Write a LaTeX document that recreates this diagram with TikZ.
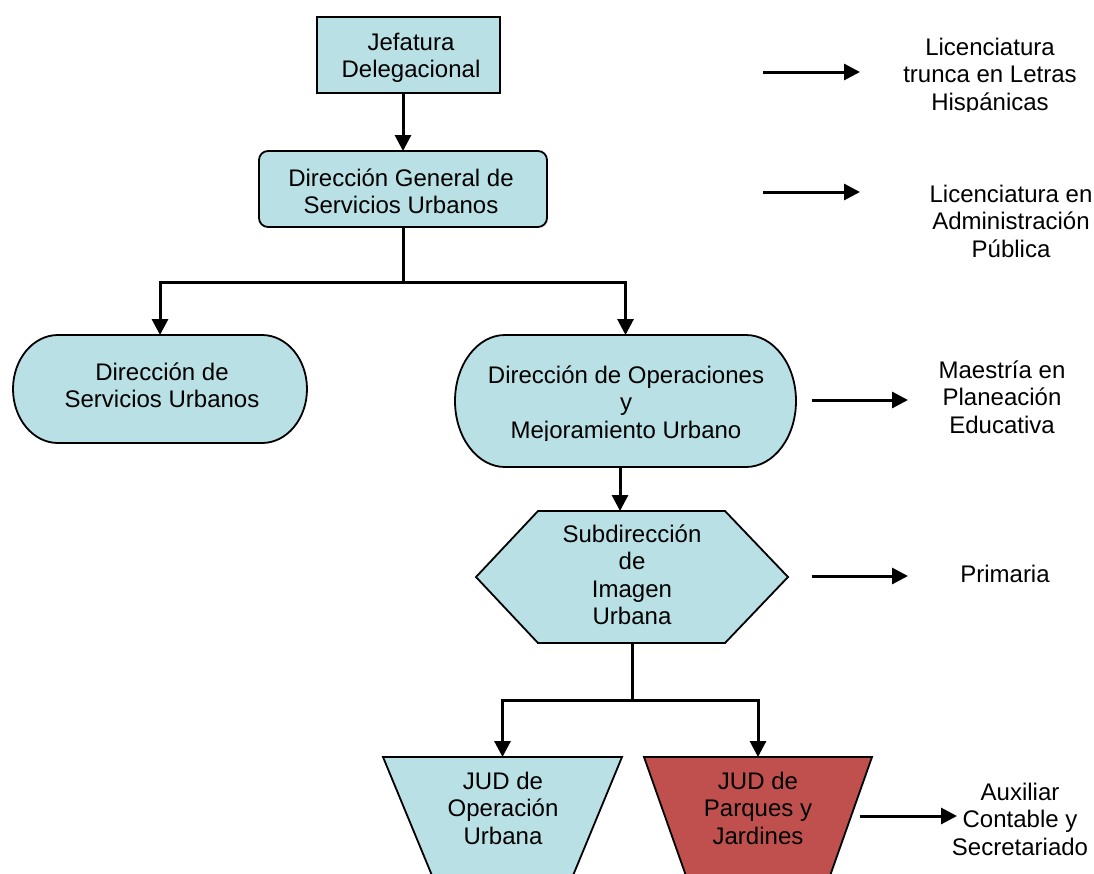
\documentclass[tikz,border=0pt]{standalone}
\usepackage{fontspec}
\setmainfont{Liberation Sans}
\usetikzlibrary{arrows.meta,calc}
\definecolor{paleblue}{RGB}{185,224,228}
\definecolor{brick}{RGB}{192,80,77}

\begin{document}
\begin{tikzpicture}[x=1pt,y=-1pt,
  frame/.style={inner sep=0pt, outer sep=0pt, draw=none},
  shapeline/.style={draw=black, line width=1.8pt},
  % labels are placed by the baseline of their last line
  lbl/.style={font=\fontsize{24}{27.5}\selectfont, align=center, inner sep=0pt, anchor=base},
  link/.style={line width=3pt},
  flow/.style={link, -{Triangle[width=16pt,length=16pt]}},
]
\useasboundingbox (0,0) rectangle (1094,873);

% ---- boxes of the chart ----
\node[frame, shapeline, fill=paleblue, minimum width=183pt, minimum height=76pt] (jef) at (408.5,55) {};
\node[frame, shapeline, fill=paleblue, rounded corners=9pt, minimum width=288pt, minimum height=76pt] (dg) at (403,189) {};

% stadium-like boxes with elliptical ends
\node[frame, minimum width=294pt, minimum height=108pt] (ds) at (160,389) {};
\draw[shapeline, fill=paleblue]
  ([xshift=45pt]ds.north west) -- ([xshift=-45pt]ds.north east)
  arc[start angle=90, end angle=-90, x radius=45pt, y radius=54pt]
  -- ([xshift=45pt]ds.south west)
  arc[start angle=270, end angle=90, x radius=45pt, y radius=54pt] -- cycle;

\node[frame, minimum width=341pt, minimum height=132pt] (dop) at (625.5,401) {};
\draw[shapeline, fill=paleblue]
  ([xshift=50pt]dop.north west) -- ([xshift=-50pt]dop.north east)
  arc[start angle=90, end angle=-90, x radius=50pt, y radius=66pt]
  -- ([xshift=50pt]dop.south west)
  arc[start angle=270, end angle=90, x radius=50pt, y radius=66pt] -- cycle;

% hexagon
\node[frame, minimum width=312pt, minimum height=132pt] (hex) at (632,577) {};
\draw[shapeline, fill=paleblue, line join=miter]
  ([xshift=62pt]hex.north west) -- ([xshift=-63pt]hex.north east)
  -- (hex.east) -- ([xshift=-63pt]hex.south east)
  -- ([xshift=62pt]hex.south west) -- (hex.west) -- cycle;

% inverted trapezoids, running past the lower edge
\node[frame, minimum width=239pt, minimum height=133pt] (jo) at (502.5,823.5) {};
\node[frame, minimum width=228pt, minimum height=133pt] (jp) at (758,823.5) {};
\begin{scope}
  \clip (0,0) rectangle (1094,873);
  \draw[shapeline, fill=paleblue, line join=miter]
    (jo.north west) -- (jo.north east)
    -- ([xshift=-55pt]jo.south east) -- ([xshift=55pt]jo.south west) -- cycle;
  \draw[shapeline, fill=brick, line join=miter]
    (jp.north west) -- (jp.north east)
    -- ([xshift=-47pt]jp.south east) -- ([xshift=47pt]jp.south west) -- cycle;
\end{scope}

% ---- labels inside the boxes ----
\node[lbl] (jef-t) at (411,77.5) {Jefatura\\Delegacional};
\node[lbl] (dg-t) at (401,213.5) {Dirección General de\\Servicios Urbanos};
\node[lbl] (ds-t) at (162,407.5) {Dirección de\\Servicios Urbanos};
\begin{scope}
  \clip (455,335) rectangle (796,440.5);
  \node[lbl] (dop-t) at (626,438) {Dirección de Operaciones\\y\\Mejoramiento Urbano};
\end{scope}
\node[lbl] (hex-t) at (632,624.5) {Subdirección\\de\\Imagen\\Urbana};
\node[lbl] (jo-t) at (503,844) {JUD de\\Operación\\Urbana};
\node[lbl] (jp-t) at (758,844) {JUD de\\Parques y\\Jardines};

% ---- reporting lines ----
\coordinate (j1) at (403,282);
\coordinate (j2) at (632,700);
\draw[flow] (jef.south -| dg.north) -- (dg.north);
\draw[link] (dg.south) -- (j1);
\draw[flow] (j1) -| (ds.north);
\draw[flow] (j1) -| (dop.north);
\draw[flow] ([xshift=-5.5pt]dop.south) -- ([xshift=-5.5pt]dop.south |- hex.north);
\draw[link] (hex.south) -- (j2);
\draw[flow] (j2) -| (jo.north);
\draw[flow] (j2) -| (jp.north);

% ---- education of each post ----
\coordinate (a1) at (763,72);  \coordinate (b1) at (860,72);
\coordinate (a2) at (763,192); \coordinate (b2) at (860,192);
\coordinate (a3) at (812,400); \coordinate (b3) at (908,400);
\coordinate (a4) at (812,576); \coordinate (b4) at (908,576);
\coordinate (a5) at (860,816); \coordinate (b5) at (957,816);
\foreach \i in {1,...,5} { \draw[flow] (a\i) -- (b\i); }

\begin{scope}
  \clip (880,20) rectangle (1094,111);
  \node[lbl] (s1) at (990,110) {Licenciatura\\trunca en Letras\\Hispánicas};
\end{scope}
\node[lbl] (s2) at (1011,257) {Licenciatura en\\Administración\\Pública};
\node[lbl] (s3) at (1002,433) {Maestría en\\Planeación\\Educativa};
\node[lbl] (s4) at (1005,582) {Primaria};
\node[lbl] (s5) at (1020,855) {Auxiliar\\Contable y\\Secretariado};

\end{tikzpicture}
\end{document}
